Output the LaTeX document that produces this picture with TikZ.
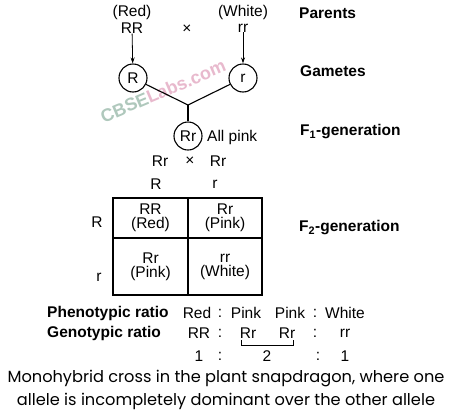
\documentclass[tikz,border=0pt]{standalone}
\usepackage{fontspec}
\setmainfont{Liberation Sans}
\newfontfamily\capfont{Poppins}
\usetikzlibrary{arrows.meta}
\definecolor{wmgreen}{RGB}{175,200,188}
\definecolor{wmpink}{RGB}{232,185,205}
\begin{document}
\begin{tikzpicture}[x=1pt,y=-1pt,
  txt/.style={inner sep=0pt, font=\fontsize{15.5}{14}\selectfont},
  lbl/.style={inner sep=0pt, anchor=west, font=\fontsize{15.5}{14}\selectfont\bfseries},
  gam/.style={circle, draw, line width=1.1pt, minimum size=28pt, inner sep=0pt, font=\fontsize{15.5}{14}\selectfont},
  cell/.style={draw, line width=1.1pt, inner sep=0pt, align=center, font=\fontsize{15.5}{14}\selectfont},
  arr/.style={-{Stealth[length=6pt,width=4pt]}, line width=0.8pt},
  conn/.style={line width=1.1pt}]
\useasboundingbox[fill=white] (0,0) rectangle (474,413);
% watermark
\node[rotate=23, inner sep=0pt, font=\fontsize{18}{18}\selectfont\bfseries] (wm) at (163,91)
  {\textcolor{wmgreen}{CBSE}\textcolor{wmpink}{Labs.com}};
% parents
\node[txt] (red) at (132,12) {(Red)};
\node[txt] (RR) at (132,28) {RR};
\node[txt] (x1) at (187,29) {×};
\node[txt] (white) at (243,12) {(White)};
\node[txt] (rr) at (243,28) {rr};
\node[lbl] (parents) at (299,13) {Parents};
% gametes
\node[gam, fill=white] (cR) at (133,78) {R};
\node[gam, fill=white] (cr) at (243,78) {r};
\node[lbl] (gametes) at (300,71) {Gametes};
\draw[arr] (RR) -- (cR);
\draw[arr] (rr) -- (cr);
\coordinate (j) at (188,105);
\draw[conn] (cR) -- (j) -- (cr);
% F1
\node[gam] (cRr) at (188,136) {Rr};
\draw[conn] (j) -- (cRr);
\node[txt, anchor=west] (pink) at (207,137) {All pink};
\node[lbl] (f1) at (300,132) {F\textsubscript{1}-generation};
% F1 cross
\node[txt] (a1) at (160,161) {Rr};
\node[txt] (x2) at (190,161) {×};
\node[txt] (a2) at (218,161) {Rr};
\node[txt] (gR) at (156,184) {R};
\node[txt] (gr) at (215,184) {r};
% Punnett square
\node[cell, minimum width=75pt, minimum height=40pt] (c11) at (150.5,218) {RR\\(Red)};
\node[cell, minimum width=74pt, minimum height=40pt] (c12) at (225,218) {Rr\\(Pink)};
\node[cell, minimum width=75pt, minimum height=57pt] (c21) at (150.5,266.5) {Rr\\(Pink)};
\node[cell, minimum width=74pt, minimum height=57pt] (c22) at (225,266.5) {rr\\(White)};
\node[txt] (rR) at (97,222) {R};
\node[txt] (rr2) at (99,277) {r};
\node[lbl] (f2) at (299,228) {F\textsubscript{2}-generation};
% ratios
\node[lbl] (pheno) at (47,313) {Phenotypic ratio};
\node[lbl] (geno) at (47,333) {Genotypic ratio};
\node[txt] (p1) at (197,313) {Red};
\node[txt] (p2) at (220,313) {:};
\node[txt] (p3) at (246,313) {Pink};
\node[txt] (p4) at (290,313) {Pink};
\node[txt] (p5) at (315,313) {:};
\node[txt] (p6) at (345,313) {White};
\node[txt] (g1) at (199,333) {RR};
\node[txt] (g2) at (220,333) {:};
\node[txt] (g3) at (248,333) {Rr};
\node[txt] (g4) at (287,333) {Rr};
\node[txt] (g5) at (315,333) {:};
\node[txt] (g6) at (345,333) {rr};
\coordinate (b1) at (241,340);
\coordinate (b2) at (293,340);
\draw[line width=0.9pt] (b1) -- ++(0,5) -| (b2);
\node[txt] (n1) at (199,356) {1};
\node[txt] (n2) at (220,356) {:};
\node[txt] (n3) at (267,356) {2};
\node[txt] (n4) at (318,356) {:};
\node[txt] (n5) at (345,356) {1};
% caption
\node[inner sep=0pt, align=center, font=\capfont\fontsize{16.2}{23}\selectfont] (cap) at (226,390)
  {Monohybrid cross in the plant snapdragon, where one\\allele is incompletely dominant over the other allele};
\end{tikzpicture}
\end{document}
